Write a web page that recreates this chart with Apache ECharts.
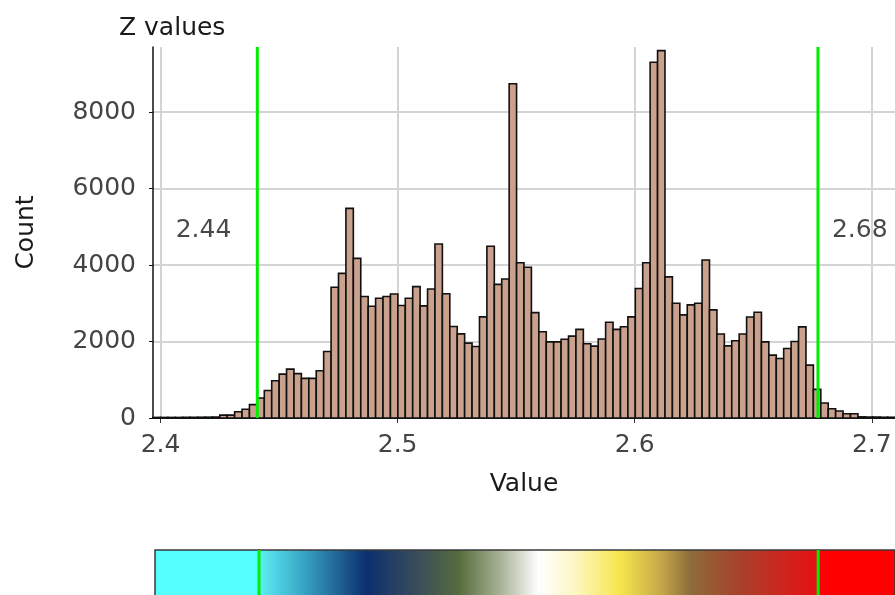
<!DOCTYPE html>
<html><head><meta charset="utf-8">
<script src="https://cdn.jsdelivr.net/npm/echarts@6/dist/echarts.min.js"></script>
<style>html,body{margin:0;padding:0;background:#fff}#c{width:895px;height:595px}</style>
</head><body><div id="c"></div>
<script>
// ---- data ----
const chartTitle = 'Z values';
const xAxisName = 'Value';
const yAxisName = 'Count';
const binStart = 2.3968;      // left edge of first bin
const binWidth = 0.00313;     // histogram bin width
const counts = [
  15, 15, 15, 15, 18, 18, 20, 22, 25,
  75, 75, 165, 230, 350, 522, 718, 974, 1148, 1278, 1160,
  1035, 1035, 1235, 1740, 3420, 3780, 5480, 4174, 3175, 2922, 3131, 3175, 3244, 2940, 3131, 3436, 2931, 3374, 4548, 3250,
  2392, 2200, 1957, 1870, 2645, 4490, 3495, 3635, 8740, 4060, 3940, 2755, 2255, 1990, 1990, 2060, 2140, 2318, 1940, 1880,
  2065, 2505, 2318, 2385, 2645, 3385, 4060, 9300, 9605, 3690, 3000, 2696, 2957, 3000, 4131, 2826, 2196, 1887, 2018, 2196,
  2640, 2765, 1990, 1643, 1556, 1818, 2000, 2383, 1382, 748,
  391, 243, 183, 113, 113, 30, 25, 25, 20, 20
];
const lowThreshold = 2.4408;
const highThreshold = 2.6773;
const thresholdLabelY = 4900;
const yMax = 9700;
const yInterval = 2000;
const xInterval = 0.1;
const lowColor = '#55ffff';
const highColor = '#ff0000';
const rampStops = [
  [0.000, '#5ef0f5'], [0.077, '#3aa8c8'], [0.193, '#0c2f6e'], [0.290, '#3c5058'],
  [0.357, '#566b3c'], [0.433, '#a9b398'], [0.500, '#ffffff'], [0.567, '#fdf6c0'],
  [0.645, '#f6e64c'], [0.718, '#c6a84a'], [0.772, '#8c6c3a'], [0.861, '#a8402a'],
  [0.950, '#d4201a'], [1.000, '#e81010']
];

// ---- build ----
const binEnd = binStart + counts.length * binWidth;
const barData = counts.map((c, i) => [binStart + i * binWidth, binStart + (i + 1) * binWidth, c]);
const FONT = 'DejaVu Sans';
const chart = echarts.init(document.getElementById('c'), null, {renderer: 'canvas'});

const rampFill = new echarts.graphic.LinearGradient(0, 0, 1, 0,
  rampStops.map(s => ({offset: s[0], color: s[1]})));
// colour-bar strip runs from 1 (top) down past the bottom edge of the canvas
const rampData = [
  [binStart, lowThreshold, 0],
  [lowThreshold, highThreshold, 1],
  [highThreshold, binEnd, 2]
];
const rampFills = [lowColor, rampFill, highColor];

chart.setOption({
  animation: false,
  backgroundColor: '#ffffff',
  title: {
    text: chartTitle, left: 114, top: 11,
    textStyle: {fontFamily: FONT, fontSize: 25, fontWeight: 'normal', color: '#1a1a1a'}
  },
  grid: [
    {left: 153, right: 0, top: 47, bottom: 177},
    {left: 155, right: 0, top: 550, bottom: 0}
  ],
  xAxis: [
    {
      type: 'value', gridIndex: 0, min: binStart, max: binEnd,
      splitNumber: 3, minInterval: xInterval, maxInterval: xInterval,
      name: xAxisName, nameLocation: 'middle', nameGap: 54,
      nameTextStyle: {fontFamily: FONT, fontSize: 25, color: '#1a1a1a'},
      axisLine: {show: true, onZero: false, lineStyle: {color: '#222', width: 1}},
      axisTick: {show: true, length: 5, lineStyle: {color: '#333'}},
      axisLabel: {fontFamily: FONT, fontSize: 25, color: '#444', margin: 15,
        showMinLabel: false, showMaxLabel: false},
      splitLine: {show: true, showMinLine: false, showMaxLine: false,
        lineStyle: {color: '#d4d4d4', width: 2}}
    },
    {
      type: 'value', gridIndex: 1, min: binStart, max: binEnd, show: false
    }
  ],
  yAxis: [
    {
      type: 'value', gridIndex: 0, min: 0, max: yMax, interval: yInterval,
      name: yAxisName, nameLocation: 'middle', nameGap: 114, nameRotate: 90,
      nameTextStyle: {fontFamily: FONT, fontSize: 25, color: '#1a1a1a'},
      axisLine: {show: true, lineStyle: {color: '#111', width: 1.5}},
      axisTick: {show: true, length: 4, lineStyle: {color: '#111'}},
      axisLabel: {fontFamily: FONT, fontSize: 25, color: '#444', margin: 17, showMaxLabel: false,
        formatter: v => String(v)},
      splitLine: {show: true, showMaxLine: false, lineStyle: {color: '#d4d4d4', width: 2}}
    },
    {type: 'value', gridIndex: 1, min: 0, max: 1, show: false}
  ],
  series: [
    {
      type: 'custom', xAxisIndex: 0, yAxisIndex: 0, data: barData,
      encode: {x: [0, 1], y: 2}, z: 3,
      renderItem: function (params, api) {
        const p0 = api.coord([api.value(0), api.value(2)]);
        const p1 = api.coord([api.value(1), 0]);
        return {type: 'rect',
          shape: {x: p0[0], y: p0[1], width: p1[0] - p0[0], height: p1[1] - p0[1]},
          style: {fill: '#c9a18d', stroke: '#101010', lineWidth: 1.6}};
      }
    },
    {
      type: 'line', xAxisIndex: 0, yAxisIndex: 0, z: 5, symbol: 'none', silent: true,
      lineStyle: {color: '#00ee00', width: 3},
      data: [[lowThreshold, 0], [lowThreshold, yMax]]
    },
    {
      type: 'line', xAxisIndex: 0, yAxisIndex: 0, z: 5, symbol: 'none', silent: true,
      lineStyle: {color: '#00ee00', width: 3},
      data: [[highThreshold, 0], [highThreshold, yMax]]
    },
    {
      type: 'scatter', xAxisIndex: 0, yAxisIndex: 0, z: 6, symbolSize: 0, silent: true,
      data: [
        {value: [lowThreshold, thresholdLabelY], label: {position: 'left', distance: 26}},
        {value: [highThreshold, thresholdLabelY], label: {position: 'right', distance: 14}}
      ],
      label: {show: true, fontFamily: FONT, fontSize: 25, color: '#1a1a1a',
        formatter: p => p.value[0].toFixed(2)}
    },
    {
      type: 'custom', xAxisIndex: 1, yAxisIndex: 1, data: rampData, z: 3, clip: false,
      encode: {x: [0, 1]},
      renderItem: function (params, api) {
        const p0 = api.coord([api.value(0), 1]);
        const p1 = api.coord([api.value(1), -1]);
        return {type: 'rect',
          shape: {x: p0[0], y: p0[1], width: p1[0] - p0[0], height: p1[1] - p0[1]},
          style: {fill: rampFills[api.value(2)], stroke: '#3a3a3a', lineWidth: 1.5}};
      }
    },
    {
      type: 'line', xAxisIndex: 1, yAxisIndex: 1, z: 5, symbol: 'none', silent: true,
      lineStyle: {color: '#00ee00', width: 3},
      data: [[lowThreshold, 0], [lowThreshold, 1]]
    },
    {
      type: 'line', xAxisIndex: 1, yAxisIndex: 1, z: 5, symbol: 'none', silent: true,
      lineStyle: {color: '#00ee00', width: 3},
      data: [[highThreshold, 0], [highThreshold, 1]]
    }
  ]
});
</script></body></html>
